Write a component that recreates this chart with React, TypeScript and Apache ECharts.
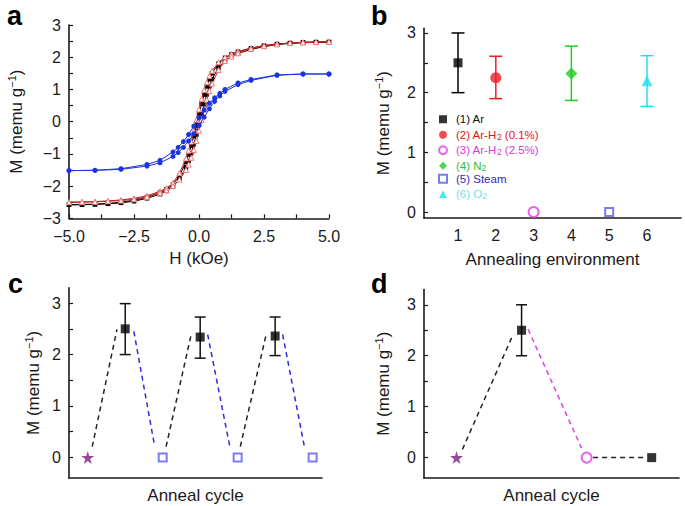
import React, { useEffect, useRef } from 'react';
import * as echarts from 'echarts';

const FONT = '"Liberation Sans", Arial, Helvetica, sans-serif';
const INK = '#1a1a1a';

// ---------------- panel a : hysteresis loops ----------------
const fieldDown = [5, 4.5, 4, 3.5, 3, 2.5, 2, 1.5, 1.25, 1, 0.75, 0.5, 0.4, 0.3, 0.2, 0.1, 0, -0.1, -0.2, -0.3, -0.4, -0.5, -0.75, -1, -1.25, -1.5, -2, -2.5, -3, -3.5, -4, -4.5, -5];
const fieldUp = [-5, -4.5, -4, -3.5, -3, -2.5, -2, -1.5, -1.25, -1, -0.75, -0.5, -0.4, -0.3, -0.2, -0.1, 0, 0.1, 0.2, 0.3, 0.4, 0.5, 0.75, 1, 1.25, 1.5, 2, 2.5, 3, 3.5, 4, 4.5, 5];
const blackDown = [2.47, 2.47, 2.46, 2.44, 2.41, 2.36, 2.28, 2.17, 2.09, 1.98, 1.8, 1.5, 1.32, 1.1, 0.84, 0.55, 0.22, -0.12, -0.45, -0.75, -1.02, -1.25, -1.68, -1.95, -2.1, -2.2, -2.34, -2.44, -2.5, -2.54, -2.56, -2.57, -2.58];
const blackUp = [-2.58, -2.58, -2.57, -2.55, -2.52, -2.47, -2.38, -2.25, -2.15, -2.02, -1.78, -1.42, -1.22, -0.98, -0.7, -0.4, -0.08, 0.25, 0.55, 0.85, 1.1, 1.32, 1.68, 1.9, 2.03, 2.12, 2.24, 2.33, 2.39, 2.43, 2.45, 2.46, 2.47];
const redDown = [2.48, 2.47, 2.46, 2.44, 2.41, 2.36, 2.28, 2.18, 2.1, 2.0, 1.84, 1.58, 1.42, 1.22, 0.98, 0.7, 0.38, 0.05, -0.3, -0.62, -0.9, -1.14, -1.6, -1.9, -2.06, -2.16, -2.3, -2.38, -2.43, -2.46, -2.48, -2.49, -2.5];
const redUp = [-2.5, -2.5, -2.49, -2.47, -2.45, -2.41, -2.34, -2.22, -2.13, -2.0, -1.8, -1.5, -1.33, -1.12, -0.88, -0.6, -0.28, 0.05, 0.38, 0.68, 0.95, 1.18, 1.6, 1.88, 2.02, 2.12, 2.26, 2.34, 2.4, 2.44, 2.46, 2.47, 2.48];
const blueFieldDown = [5, 4, 3, 2, 1.5, 1, 0.8, 0.6, 0.4, 0.2, 0, -0.2, -0.4, -0.6, -0.8, -1, -1.5, -2, -3, -4, -5];
const blueFieldUp = [-5, -4, -3, -2, -1.5, -1, -0.8, -0.6, -0.4, -0.2, 0, 0.2, 0.4, 0.6, 0.8, 1, 1.5, 2, 3, 4, 5];
const blueDown = [1.48, 1.48, 1.45, 1.31, 1.2, 1.0, 0.88, 0.74, 0.57, 0.36, 0.12, -0.14, -0.4, -0.62, -0.8, -0.94, -1.2, -1.33, -1.46, -1.51, -1.52];
const blueUp = [-1.52, -1.51, -1.48, -1.38, -1.28, -1.08, -0.96, -0.8, -0.6, -0.38, -0.12, 0.14, 0.4, 0.63, 0.8, 0.94, 1.15, 1.28, 1.44, 1.48, 1.48];

// ---------------- panel b : annealing environment ----------------
const envX = [1, 2, 3, 4, 5, 6];
const envNames = ['(1) Ar', '(2) Ar-H2 (0.1%)', '(3) Ar-H2 (2.5%)', '(4) N2', '(5) Steam', '(6) O2'];
const envLegendText = ['(1) Ar', '(2) Ar-H{s|2} (0.1%)', '(3) Ar-H{s|2} (2.5%)', '(4) N{s|2}', '(5) Steam', '(6) O{s|2}'];
const envM = [2.5, 2.25, 0, 2.32, 0, 2.2];
const envLow = [2.0, 1.9, null, 1.87, null, 1.77];
const envHigh = [3.0, 2.61, null, 2.78, null, 2.62];

// ---------------- panel c : anneal cycles (Ar / steam) ----------------
const cStart = [[0, 0]];
const cAnnealed = [[1, 2.5], [3, 2.34], [5, 2.36]];
const cAnnealedErr = [[1, 2.0, 2.99], [3, 1.93, 2.73], [5, 1.98, 2.73]];
const cSteamed = [[2, 0], [4, 0], [6, 0]];
const cRises = [
  [[0.12, 0.21], [0.78, 2.49]],
  [[2.09, 0.21], [2.76, 2.39]],
  [[4.07, 0.21], [4.76, 2.39]],
];
const cFalls = [
  [[1.23, 2.45], [1.78, 0.24]],
  [[3.2, 2.39], [3.79, 0.21]],
  [[5.2, 2.39], [5.78, 0.21]],
];

// ---------------- panel d : anneal cycle (Ar / Ar-H2) ----------------
const dStart = [[0, 0]];
const dAnnealed = [[1, 2.5]];
const dAnnealedErr = [[1, 2.0, 3.0]];
const dReduced = [[2, 0]];
const dReannealed = [[3, 0]];
const dRise = [[0.09, 0.16], [0.87, 2.42]];
const dFall = [[1.1, 2.52], [1.92, 0.19]];
const dFlat = [[2.1, 0], [2.92, 0]];

// ---------------- styles ----------------
const envColors = ['#000000', '#ee1c24', '#e040e0', '#1fcc1f', '#5a5ae6', '#22dded'];
const envTextColors = ['#111111', '#e3141b', '#d83ad8', '#2fbf2f', '#2b2bb5', '#6fe0f0'];
const envSymbols = ['rect', 'circle', 'emptyCircle', 'diamond', 'emptyRect', 'triangle'];
const envSizes = [9, 11, 10, 12, 8, 11];
const STAR = 'path://M50,0 L61,35 L98,35 L68,57 L79,91 L50,70 L21,91 L32,57 L2,35 L39,35 Z';

const minus = (s: string) => s.replace('-', '\u2212');

function App() {
  const ref = useRef<HTMLDivElement>(null);
  useEffect(() => {
    if (!ref.current) return;
    const chart = echarts.init(ref.current, null, { renderer: 'svg' });

    const axisLine = { onZero: false, lineStyle: { color: INK, width: 1.6 } };
    const nameStyle = {
      fontSize: 17, color: INK, fontFamily: FONT, lineHeight: 20,
      rich: { sup: { fontSize: 11, fontFamily: FONT, color: INK, verticalAlign: 'top', lineHeight: 11 } },
    };
    const mName = 'M (memu g{sup|\u22121})';
    const labelStyle = { fontSize: 16, color: INK, fontFamily: FONT };
    const tickStyle = { color: INK, width: 1.2 };

    const loop = (hd: number[], md: number[], hu: number[], mu: number[]) =>
      hd.map((h, i) => [h, md[i]]).concat(hu.map((h, i) => [h, mu[i]]));

    const errSeries = (data: any[], color: string, axis: number, cap: number) => ({
      type: 'custom', xAxisIndex: axis, yAxisIndex: axis, data, z: 2, silent: true,
      encode: { x: 0, y: [1, 2] },
      renderItem: (_p: any, api: any) => {
        const x = api.value(0);
        const top = api.coord([x, api.value(2)]);
        const bot = api.coord([x, api.value(1)]);
        const st = { stroke: color, lineWidth: 1.5 };
        return {
          type: 'group',
          children: [
            { type: 'line', shape: { x1: top[0], y1: top[1], x2: bot[0], y2: bot[1] }, style: st },
            { type: 'line', shape: { x1: top[0] - cap, y1: top[1], x2: top[0] + cap, y2: top[1] }, style: st },
            { type: 'line', shape: { x1: bot[0] - cap, y1: bot[1], x2: bot[0] + cap, y2: bot[1] }, style: st },
          ],
        };
      },
    });

    const dashed = (data: number[][], color: string, axis: number) => ({
      type: 'line', xAxisIndex: axis, yAxisIndex: axis, data, symbol: 'none', z: 1, silent: true,
      lineStyle: { color, width: 1.5, type: [5, 4] },
    });

    const scatter = (data: number[][], axis: number, symbol: string, size: number, color: string, name?: string) => ({
      type: 'scatter', name, xAxisIndex: axis, yAxisIndex: axis, data, symbol, symbolSize: size, z: 3,
      itemStyle: symbol.startsWith('empty') ? { color, borderColor: color, borderWidth: 1.3 } : { color },
    });

    const envSeries: any[] = [];
    envX.forEach((x, i) => {
      if (envLow[i] !== null) {
        envSeries.push(errSeries([[x, envLow[i], envHigh[i]]], envColors[i], 1, 6.5));
      }
      envSeries.push(scatter([[x, envM[i]]], 1, envSymbols[i], envSizes[i], envColors[i], envNames[i]));
    });

    const yTicks = [0, 0.5, 1, 1.5, 2, 2.5, 3];
    const yLabels = [0, 1, 2, 3];
    const customY = (min: number, max: number, gap: number, grid: number) => ({
      type: 'value', gridIndex: grid, min, max,
      axisLine, splitLine: { show: false },
      axisTick: { inside: true, length: 4, lineStyle: tickStyle, customValues: yTicks },
      axisLabel: { ...labelStyle, margin: 8, customValues: yLabels },
      name: mName, nameLocation: 'middle', nameGap: gap, nameTextStyle: nameStyle,
    });

    const option: any = {
      animation: false,
      textStyle: { fontFamily: FONT },
      grid: [
        { left: 69, top: 25, width: 260, height: 193.3 },
        { left: 424, top: 28.2, width: 257, height: 189.8 },
        { left: 69, top: 287.7, width: 253, height: 192 },
        { left: 424, top: 289.5, width: 255, height: 191.2 },
      ],
      xAxis: [
        {
          type: 'value', gridIndex: 0, min: -5, max: 5, interval: 2.5,
          axisLine, splitLine: { show: false },
          axisTick: { inside: true, length: 4, lineStyle: tickStyle },
          minorTick: { show: true, splitNumber: 2, length: 4, lineStyle: tickStyle },
          axisLabel: { ...labelStyle, margin: 10, formatter: (v: number) => minus(v.toFixed(1)) },
          name: 'H (kOe)', nameLocation: 'middle', nameGap: 30, nameTextStyle: nameStyle,
        },
        {
          type: 'value', gridIndex: 1, min: 0.1, max: 6.9,
          axisLine, splitLine: { show: false }, axisTick: { show: false },
          axisLabel: { ...labelStyle, margin: 9, customValues: envX },
          name: 'Annealing environment', nameLocation: 'middle', nameGap: 31, nameTextStyle: nameStyle,
        },
        {
          type: 'value', gridIndex: 2, min: -0.5, max: 6.25,
          axisLine, splitLine: { show: false }, axisTick: { show: false }, axisLabel: { show: false },
          name: 'Anneal cycle', nameLocation: 'middle', nameGap: 7, nameTextStyle: nameStyle,
        },
        {
          type: 'value', gridIndex: 3, min: -0.5, max: 3.42,
          axisLine, splitLine: { show: false }, axisTick: { show: false }, axisLabel: { show: false },
          name: 'Anneal cycle', nameLocation: 'middle', nameGap: 7, nameTextStyle: nameStyle,
        },
      ],
      yAxis: [
        {
          type: 'value', gridIndex: 0, min: -3, max: 3, interval: 1,
          axisLine, splitLine: { show: false },
          axisTick: { inside: true, length: 4, lineStyle: tickStyle },
          minorTick: { show: true, splitNumber: 2, length: 4, lineStyle: tickStyle },
          axisLabel: { ...labelStyle, margin: 8, formatter: (v: number) => minus(String(v)) },
          name: mName, nameLocation: 'middle', nameGap: 43, nameTextStyle: nameStyle,
        },
        customY(-0.1, 3.08, 31, 1),
        customY(-0.4, 3.3, 26, 2),
        customY(-0.4, 3.3, 31, 3),
      ],
      legend: {
        orient: 'vertical', left: 433, top: 108, itemWidth: 8, itemHeight: 8, itemGap: 0.5,
        selectedMode: false,
        data: envNames.map((n, i) => ({ name: n, textStyle: { color: envTextColors[i] } })),
        formatter: (n: string) => envLegendText[envNames.indexOf(n)],
        textStyle: {
          fontSize: 11.5, fontFamily: FONT, lineHeight: 12.5, padding: [0, 0, 0, 4],
          rich: { s: { fontSize: 8.5, fontFamily: FONT, lineHeight: 8, verticalAlign: 'bottom', padding: [6, 0, 0, 0] } },
        },
      },
      graphic: [
        { type: 'text', x: 7, y: 16, style: { text: 'a', font: `bold 27px ${FONT}`, fill: '#000', verticalAlign: 'middle' } },
        { type: 'text', x: 371, y: 16, style: { text: 'b', font: `bold 27px ${FONT}`, fill: '#000', verticalAlign: 'middle' } },
        { type: 'text', x: 8, y: 284, style: { text: 'c', font: `bold 27px ${FONT}`, fill: '#000', verticalAlign: 'middle' } },
        { type: 'text', x: 371, y: 284, style: { text: 'd', font: `bold 27px ${FONT}`, fill: '#000', verticalAlign: 'middle' } },
      ],
      series: [
        // panel a
        {
          type: 'line', xAxisIndex: 0, yAxisIndex: 0, data: loop(fieldDown, blackDown, fieldUp, blackUp),
          symbol: 'rect', symbolSize: 4.5, showAllSymbol: true,
          lineStyle: { color: '#000', width: 1 }, itemStyle: { color: '#000' }, z: 2,
        },
        {
          type: 'line', xAxisIndex: 0, yAxisIndex: 0, data: loop(fieldDown, redDown, fieldUp, redUp),
          symbol: 'triangle', symbolSize: 5, showAllSymbol: true,
          lineStyle: { color: '#c81e1e', width: 1 }, itemStyle: { color: '#fff', borderColor: '#f07878', borderWidth: 1 }, z: 3,
        },
        {
          type: 'line', xAxisIndex: 0, yAxisIndex: 0, data: loop(blueFieldDown, blueDown, blueFieldUp, blueUp),
          symbol: 'circle', symbolSize: 5, showAllSymbol: true,
          lineStyle: { color: '#1a35e0', width: 1 }, itemStyle: { color: '#1a35e0' }, z: 4,
        },
        // panel b
        ...envSeries,
        // panel c
        ...cRises.map((seg) => dashed(seg, '#222', 2)),
        ...cFalls.map((seg) => dashed(seg, '#2c2cd6', 2)),
        errSeries(cAnnealedErr, '#111', 2, 5.5),
        scatter(cStart, 2, STAR, 13, '#7d1d80'),
        scatter(cAnnealed, 2, 'rect', 9, '#000'),
        scatter(cSteamed, 2, 'emptyRect', 8, '#5b5bf0'),
        // panel d
        dashed(dRise, '#222', 3),
        dashed(dFall, '#e040e0', 3),
        dashed(dFlat, '#222', 3),
        errSeries(dAnnealedErr, '#111', 3, 5.5),
        scatter(dStart, 3, STAR, 13, '#7d1d80'),
        scatter(dAnnealed, 3, 'rect', 9, '#000'),
        scatter(dReduced, 3, 'emptyCircle', 10, '#e040e0'),
        scatter(dReannealed, 3, 'rect', 9, '#000'),
      ],
    };
    chart.setOption(option);
    return () => chart.dispose();
  }, []);
  return <div ref={ref} style={{ position: 'absolute', left: 0, top: 0, width: 685, height: 506, background: '#fff' }} />;
}

export default App;
